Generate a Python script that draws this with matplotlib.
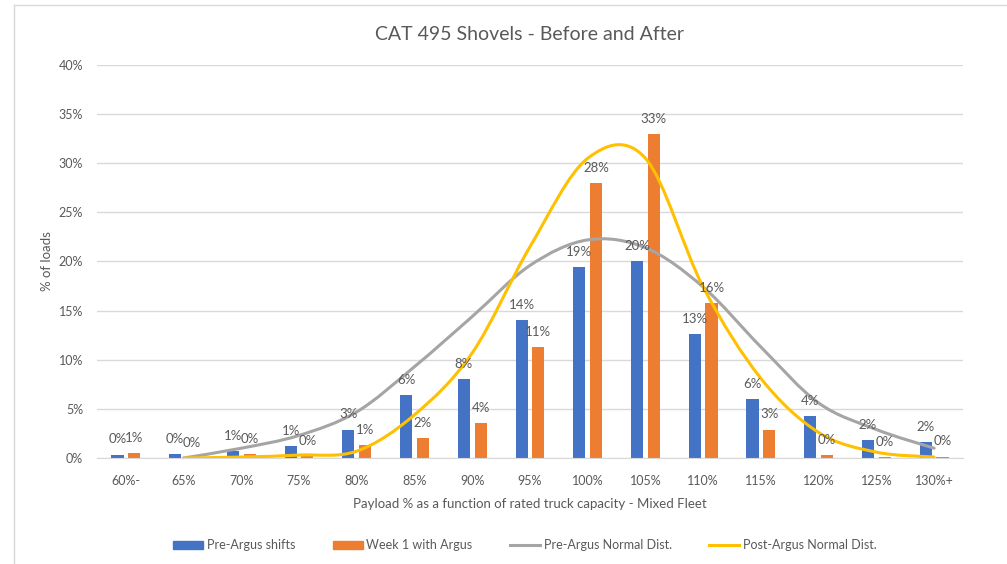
import numpy as np
import matplotlib
matplotlib.use("Agg")
import matplotlib.pyplot as plt
from matplotlib.path import Path
from matplotlib.patches import PathPatch
from matplotlib.lines import Line2D
from matplotlib.patches import Patch

plt.rcParams['font.family'] = ['Lato', 'DejaVu Sans']

# Data (percent of loads)
categories = ["60%-", "65%", "70%", "75%", "80%", "85%", "90%", "95%",
              "100%", "105%", "110%", "115%", "120%", "125%", "130%+"]
pre_argus = [0.35, 0.4, 0.7, 1.2, 2.9, 6.4, 8.0, 14.0, 19.4, 20.0, 12.6, 6.0, 4.3, 1.8, 1.6]
week1_argus = [0.55, 0.0, 0.4, 0.2, 1.3, 2.0, 3.6, 11.3, 28.0, 33.0, 15.8, 2.9, 0.3, 0.1, 0.15]
pre_normal = [np.nan, 0.0, 1.0, 2.3, 4.7, 9.3, 14.4, 19.6, 22.2, 21.4, 17.4, 11.3, 5.6, 2.9, 1.0]
post_normal = [np.nan, 0.0, 0.1, 0.3, 0.7, 4.4, 10.7, 21.5, 30.5, 30.5, 17.4, 8.1, 2.6, 0.6, 0.1]

BLUE = "#4472C4"
ORANGE = "#ED7D31"
GREY = "#A5A5A5"
YELLOW = "#FFC000"
TXT = "#595959"


def smooth_path(xs, ys):
    # Excel style smoothed line: cubic Bezier through points, tension 1/6
    pts = [(x, y) for x, y in zip(xs, ys) if not np.isnan(y)]
    verts = [pts[0]]
    codes = [Path.MOVETO]
    n = len(pts)
    for i in range(n - 1):
        p0 = pts[i - 1] if i > 0 else pts[i]
        p1 = pts[i]
        p2 = pts[i + 1]
        p3 = pts[i + 2] if i + 2 < n else pts[i + 1]
        c1 = (p1[0] + (p2[0] - p0[0]) / 6, p1[1] + (p2[1] - p0[1]) / 6)
        c2 = (p2[0] - (p3[0] - p1[0]) / 6, p2[1] - (p3[1] - p1[1]) / 6)
        verts += [c1, c2, p2]
        codes += [Path.CURVE4] * 3
    return Path(verts, codes)


fig = plt.figure(figsize=(10.07, 5.64), dpi=100)
ax = fig.add_axes([0.0963, 0.1879, 0.86, 0.6969])

x = np.arange(len(categories))
w = 0.21
off = 0.145
ax.bar(x - off, pre_argus, w, color=BLUE, zorder=2)
ax.bar(x + off, week1_argus, w, color=ORANGE, zorder=2)

for xi, v in zip(x, pre_argus):
    ax.annotate(f"{v:.0f}%", (xi - off, v), xytext=(0, 8), textcoords="offset points",
                ha="center", va="baseline", fontsize=9.5, color=TXT, zorder=4)
for xi, v in zip(x, week1_argus):
    ax.annotate(f"{v:.0f}%", (xi + off, v), xytext=(0, 8), textcoords="offset points",
                ha="center", va="baseline", fontsize=9.5, color=TXT, zorder=4)

ax.add_patch(PathPatch(smooth_path(x, pre_normal), fill=False, edgecolor=GREY,
                       lw=2.2, zorder=3, capstyle="round"))
ax.add_patch(PathPatch(smooth_path(x, post_normal), fill=False, edgecolor=YELLOW,
                       lw=2.2, zorder=3, capstyle="round"))

ax.set_xlim(-0.5, len(categories) - 0.5)
ax.set_ylim(0, 40)
ax.set_yticks(np.arange(0, 41, 5))
ax.set_yticklabels([f"{t}%" for t in range(0, 41, 5)])
ax.set_xticks(x)
ax.set_xticklabels(categories)
ax.tick_params(axis="both", length=0, colors=TXT, labelsize=9)
ax.tick_params(axis="x", pad=12)
ax.tick_params(axis="y", pad=10)
ax.grid(axis="y", color="#D9D9D9", lw=1, zorder=0)
for s in ["top", "right", "left"]:
    ax.spines[s].set_visible(False)
ax.spines["bottom"].set_color("#D9D9D9")

ax.set_title("CAT 495 Shovels - Before and After", fontsize=14, color=TXT, pad=18)
ax.set_ylabel("% of loads", fontsize=9.5, color=TXT, labelpad=4)
ax.set_xlabel("Payload % as a function of rated truck capacity - Mixed Fleet",
              fontsize=9.5, color=TXT, labelpad=8)

handles = [Patch(color=BLUE), Patch(color=ORANGE),
           Line2D([], [], color=GREY, lw=2.2), Line2D([], [], color=YELLOW, lw=2.2)]
labels = ["Pre-Argus shifts", "Week 1 with Argus", "Pre-Argus Normal Dist.", "Post-Argus Normal Dist."]
fig.legend(handles, labels, loc="center", bbox_to_anchor=(525 / 1007, 1 - 545 / 564),
           ncol=4, frameon=False, fontsize=9, labelcolor=TXT, handlelength=2.4,
           handleheight=0.6, handletextpad=0.3, columnspacing=3)

# thin frame around the chart area
fig.add_artist(Line2D([14 / 1007, 1], [1 - 5 / 564, 1 - 5 / 564], color="#D9D9D9", lw=1))
fig.add_artist(Line2D([14 / 1007, 14 / 1007], [0, 1 - 5 / 564], color="#D9D9D9", lw=1))

fig.savefig("out.png", dpi=100)
